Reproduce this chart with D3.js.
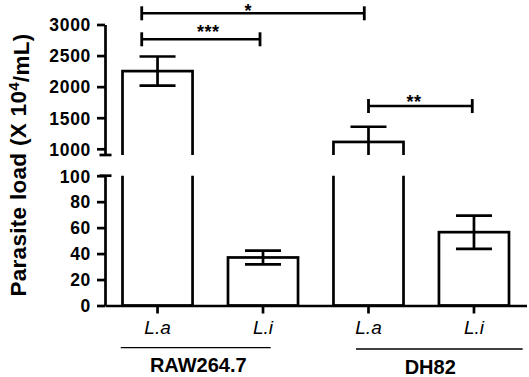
<!DOCTYPE html>
<html>
<head>
<meta charset="utf-8">
<script src="https://cdn.jsdelivr.net/npm/d3@7"></script>
<style>
  html, body { margin: 0; padding: 0; background: #fff; }
  svg { display: block; }
  text { font-family: "Liberation Sans", Arial, Helvetica, sans-serif; fill: #000; }
</style>
</head>
<body>
<svg id="chart" width="529" height="377"></svg>
<script>
// ---------------- data ----------------
const categories = ["L.a", "L.i", "L.a", "L.i"];
const means = [2250, 37, 1110, 56.5];
const errors = [235, 5.3, 245, 12.8];
const lowDomain = [0, 100];
const highDomain = [900, 3000];
const lowTicks = [0, 20, 40, 60, 80, 100];
const highTicks = [1000, 1500, 2000, 2500, 3000];
const groupNames = ["RAW264.7", "DH82"];
const groupFirst = [0, 2];
const groupLast = [1, 3];
const sigLabels = ["*", "***", "**"];
const sigFrom = [0, 0, 2];
const sigTo = [2, 1, 3];
const sigLevel = [3180, 2762, 1688];
const yTitle = "Parasite load (X 10";
const yTitleSup = "4";
const yTitleEnd = "/mL)";

// ---------------- layout / style ----------------
const W = 529, H = 377;
const axisX = 105;
const xRight = 526.5;
const lowRange = [305.5, 175.7];
const highRange = [155, 24.5];
const lw = 2.7;
const sigFromDx = [-15.8, -15.8, 0];
const sigToDx = [-4.2, -3, -1.7];
const sigTextDx = [-4.7, 7.5, -6.3];
const sigTextGap = [6.6, 11.5, 8.7];
const groupLineDx0 = [-36.8, -12.5];
const groupLineDx1 = [7.7, 48.7];
const groupLineY = [347.7, 349];
const groupTextDx = [-12, 9];
const groupTextY = [372, 374];

const svg = d3.select("#chart");
svg.append("rect").attr("width", W).attr("height", H).attr("fill", "#fff");

const x = d3.scaleBand()
  .domain(d3.range(categories.length))
  .range([axisX, xRight])
  .paddingInner(0.336)
  .paddingOuter(0.166);
const bw = x.bandwidth();
const cx = i => x(i) + bw / 2;

const yLow = d3.scaleLinear().domain(lowDomain).range(lowRange);
const yHigh = d3.scaleLinear().domain(highDomain).range(highRange);

const defs = svg.append("defs");
defs.append("clipPath").attr("id", "clipHigh")
  .append("rect").attr("x", 0).attr("y", 0).attr("width", W).attr("height", yHigh(highDomain[0]));
defs.append("clipPath").attr("id", "clipLow")
  .append("rect").attr("x", 0).attr("y", yLow(lowDomain[1])).attr("width", W).attr("height", H - yLow(lowDomain[1]));

const segments = [
  { y: yHigh, clip: "url(#clipHigh)", base: yHigh(highDomain[0]) + 30 },
  { y: yLow, clip: "url(#clipLow)", base: yLow(0) }
];

const clampY = v => Math.max(Math.min(v, 5000), -5000);

segments.forEach(seg => {
  const g = svg.append("g").attr("clip-path", seg.clip);
  // bars
  g.selectAll("rect.bar").data(means).join("rect")
    .attr("class", "bar")
    .attr("x", (d, i) => x(i))
    .attr("y", d => clampY(seg.y(d)))
    .attr("width", bw)
    .attr("height", d => Math.max(0, seg.base - clampY(seg.y(d))))
    .attr("fill", "#fff")
    .attr("stroke", "#000")
    .attr("stroke-width", lw);
  // error bars
  const eb = g.selectAll("g.eb").data(means).join("g").attr("class", "eb");
  eb.append("line")
    .attr("x1", (d, i) => cx(i)).attr("x2", (d, i) => cx(i))
    .attr("y1", (d, i) => clampY(seg.y(d + errors[i])))
    .attr("y2", (d, i) => clampY(seg.y(d - errors[i])))
    .attr("stroke", "#000").attr("stroke-width", lw);
  [1, -1].forEach(s => {
    eb.append("line")
      .attr("x1", (d, i) => cx(i) - 18).attr("x2", (d, i) => cx(i) + 18)
      .attr("y1", (d, i) => clampY(seg.y(d + s * errors[i])))
      .attr("y2", (d, i) => clampY(seg.y(d + s * errors[i])))
      .attr("stroke", "#000").attr("stroke-width", lw);
  });
});

// ---------------- axes ----------------
function styleAxis(g) {
  g.selectAll("path.domain").attr("stroke", "#000").attr("stroke-width", lw);
  g.selectAll(".tick line").attr("stroke", "#000").attr("stroke-width", lw);
  g.selectAll(".tick text")
    .style("font-size", "17.5px").style("font-weight", "bold")
    .style("letter-spacing", "0.7px")
    .attr("dy", "0.36em")
    .attr("fill", "#000");
}

svg.append("g").attr("transform", `translate(${axisX},0)`)
  .call(d3.axisLeft(yHigh).tickValues(highTicks).tickFormat(d3.format("d"))
    .tickSize(8).tickSizeOuter(0).tickPadding(6))
  .call(styleAxis);

svg.append("g").attr("transform", `translate(${axisX},0)`)
  .call(d3.axisLeft(yLow).tickValues(lowTicks).tickFormat(d3.format("d"))
    .tickSize(8).tickSizeOuter(0).tickPadding(6))
  .call(styleAxis);

// axis break marks
[yHigh(highDomain[0]), yLow(lowDomain[1])].forEach(yy => {
  svg.append("line")
    .attr("x1", axisX - 5.5).attr("x2", axisX + 6.5)
    .attr("y1", yy).attr("y2", yy)
    .attr("stroke", "#000").attr("stroke-width", lw);
});

const xAxisG = svg.append("g").attr("transform", `translate(0,${yLow(0)})`)
  .call(d3.axisBottom(x).tickSize(8).tickSizeOuter(0).tickPadding(7)
    .tickFormat(i => categories[i]));
xAxisG.selectAll("path.domain").attr("stroke", "#000").attr("stroke-width", lw);
xAxisG.selectAll(".tick line").attr("stroke", "#000").attr("stroke-width", lw);
xAxisG.selectAll(".tick text")
  .style("font-size", "19px").style("font-style", "italic").style("font-weight", "normal")
  .attr("fill", "#000");

// ---------------- group labels ----------------
groupNames.forEach((name, k) => {
  const a = groupFirst[k], b = groupLast[k];
  svg.append("line")
    .attr("x1", cx(a) + groupLineDx0[k]).attr("x2", cx(b) + groupLineDx1[k])
    .attr("y1", groupLineY[k]).attr("y2", groupLineY[k])
    .attr("stroke", "#000").attr("stroke-width", 1.3);
  svg.append("text")
    .attr("x", (cx(a) + cx(b)) / 2 + groupTextDx[k])
    .attr("y", groupTextY[k])
    .attr("text-anchor", "middle")
    .style("font-size", "20px").style("font-weight", "bold")
    .text(name);
});

// ---------------- significance brackets ----------------
sigLabels.forEach((lab, k) => {
  const x1 = cx(sigFrom[k]) + sigFromDx[k];
  const x2 = cx(sigTo[k]) + sigToDx[k];
  const yy = yHigh(sigLevel[k]);
  svg.append("line").attr("x1", x1).attr("x2", x2).attr("y1", yy).attr("y2", yy)
    .attr("stroke", "#000").attr("stroke-width", 2.4);
  [x1, x2].forEach(xx => {
    svg.append("line").attr("x1", xx).attr("x2", xx).attr("y1", yy - 7).attr("y2", yy + 7)
      .attr("stroke", "#000").attr("stroke-width", 2.8);
  });
  const fs = 18;
  svg.append("text")
    .attr("x", (x1 + x2) / 2 + sigTextDx[k])
    .attr("y", yy - sigTextGap[k] + 0.575 * fs)
    .attr("text-anchor", "middle")
    .style("font-size", fs + "px").style("font-weight", "bold")
    .style("letter-spacing", "0.5px")
    .text(lab);
});

// ---------------- y title ----------------
const title = svg.append("text")
  .attr("transform", `translate(26,165) rotate(-90)`)
  .attr("text-anchor", "middle")
  .style("font-size", "22.5px").style("font-weight", "bold")
  .style("letter-spacing", "0.3px");
title.append("tspan").text(yTitle);
title.append("tspan").attr("dy", "-0.45em").style("font-size", "15px").text(yTitleSup);
title.append("tspan").attr("dy", "0.45em").text(yTitleEnd);
</script>
</body>
</html>
